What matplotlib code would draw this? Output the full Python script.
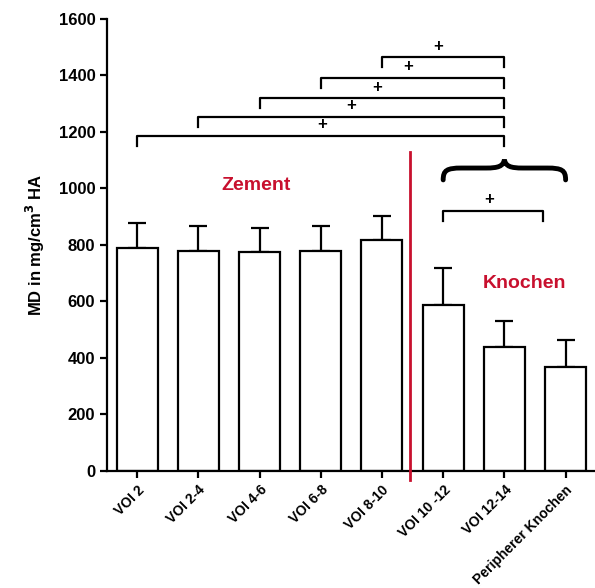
import numpy as np
import matplotlib.pyplot as plt
from matplotlib.path import Path
from matplotlib.patches import PathPatch

plt.rcParams['font.family'] = ['Liberation Sans', 'DejaVu Sans']
plt.rcParams['font.weight'] = 'bold'

categories = ['VOI 2', 'VOI 2-4', 'VOI 4-6', 'VOI 6-8', 'VOI 8-10',
              'VOI 10 -12', 'VOI 12-14', 'Peripherer Knochen']
means = [789, 779, 775, 780, 818, 588, 439, 368]
sds = [89, 88, 85, 88, 85, 130, 92, 96]

# significance brackets: left bar, right bar, height, x of the "+"
br_left = [0, 1, 2, 3, 4, 5]
br_right = [6, 6, 6, 6, 6, 6.63]
br_y = [1186, 1253, 1320, 1391, 1465, 921]
br_plus = [3.02, 3.5, 3.92, 4.43, 4.92, 5.75]

fig = plt.figure(figsize=(5.95, 5.88), dpi=100)
ax = fig.add_axes([0.18, 0.199, 0.82, 0.769])

x = np.arange(len(categories))
ax.bar(x, means, width=0.67, color='white', edgecolor='black', linewidth=1.6, zorder=2)
ax.errorbar(x, means, yerr=[np.zeros(len(sds)), sds], fmt='none', ecolor='black',
            elinewidth=1.6, capsize=6.5, capthick=1.6, zorder=1)

for l, r, y, p in zip(br_left, br_right, br_y, br_plus):
    ax.plot([l, l, r, r], [y - 35, y, y, y - 35], color='black', lw=1.6, clip_on=False)
    ax.text(p, y + 12, '+', ha='center', va='bottom', fontsize=12, fontweight='bold')

# curly brace over the bone group
x0, x1, xm = 5.0, 7.0, 6.0
yb, yh, yp = 1030, 1072, 1102
verts = [(x0, yb),
         (x0, yh - 8), (x0 + 0.06, yh), (x0 + 0.3, yh),
         (xm - 0.3, yh),
         (xm - 0.1, yh), (xm - 0.02, yh + 6), (xm, yp),
         (xm + 0.02, yh + 6), (xm + 0.1, yh), (xm + 0.3, yh),
         (x1 - 0.3, yh),
         (x1 - 0.06, yh), (x1, yh - 8), (x1, yb)]
codes = [Path.MOVETO,
         Path.CURVE4, Path.CURVE4, Path.CURVE4,
         Path.LINETO,
         Path.CURVE4, Path.CURVE4, Path.CURVE4,
         Path.CURVE4, Path.CURVE4, Path.CURVE4,
         Path.LINETO,
         Path.CURVE4, Path.CURVE4, Path.CURVE4]
ax.add_patch(PathPatch(Path(verts, codes), facecolor='none', edgecolor='black',
                       lw=3.5, capstyle='round', clip_on=False))

ax.plot([4.46, 4.46], [1129, -32], color='#c8102e', lw=2, clip_on=False, zorder=3)
ax.text(1.95, 1010, 'Zement', color='#c8102e', fontsize=14, fontweight='bold',
        ha='center', va='center')
ax.text(6.33, 665, 'Knochen', color='#c8102e', fontsize=14, fontweight='bold',
        ha='center', va='center')

ax.set_xlim(-0.49, 7.48)
ax.set_ylim(0, 1600)
ax.set_yticks(np.arange(0, 1601, 200))
ax.set_xticks(x)
ax.set_xticklabels(categories, rotation=45, ha='right', rotation_mode='anchor',
                   fontsize=10, fontweight='bold')
for t in ax.get_yticklabels():
    t.set_fontsize(12)
    t.set_fontweight('bold')
ax.set_ylabel('MD in mg/cm$^\\mathbf{3}$ HA', fontsize=12, fontweight='bold', labelpad=8)
ax.spines['top'].set_visible(False)
ax.spines['right'].set_visible(False)
ax.spines['left'].set_linewidth(1.6)
ax.spines['bottom'].set_linewidth(1.6)
ax.tick_params(width=1.6, length=5)

fig.savefig('out.png', dpi=100)
